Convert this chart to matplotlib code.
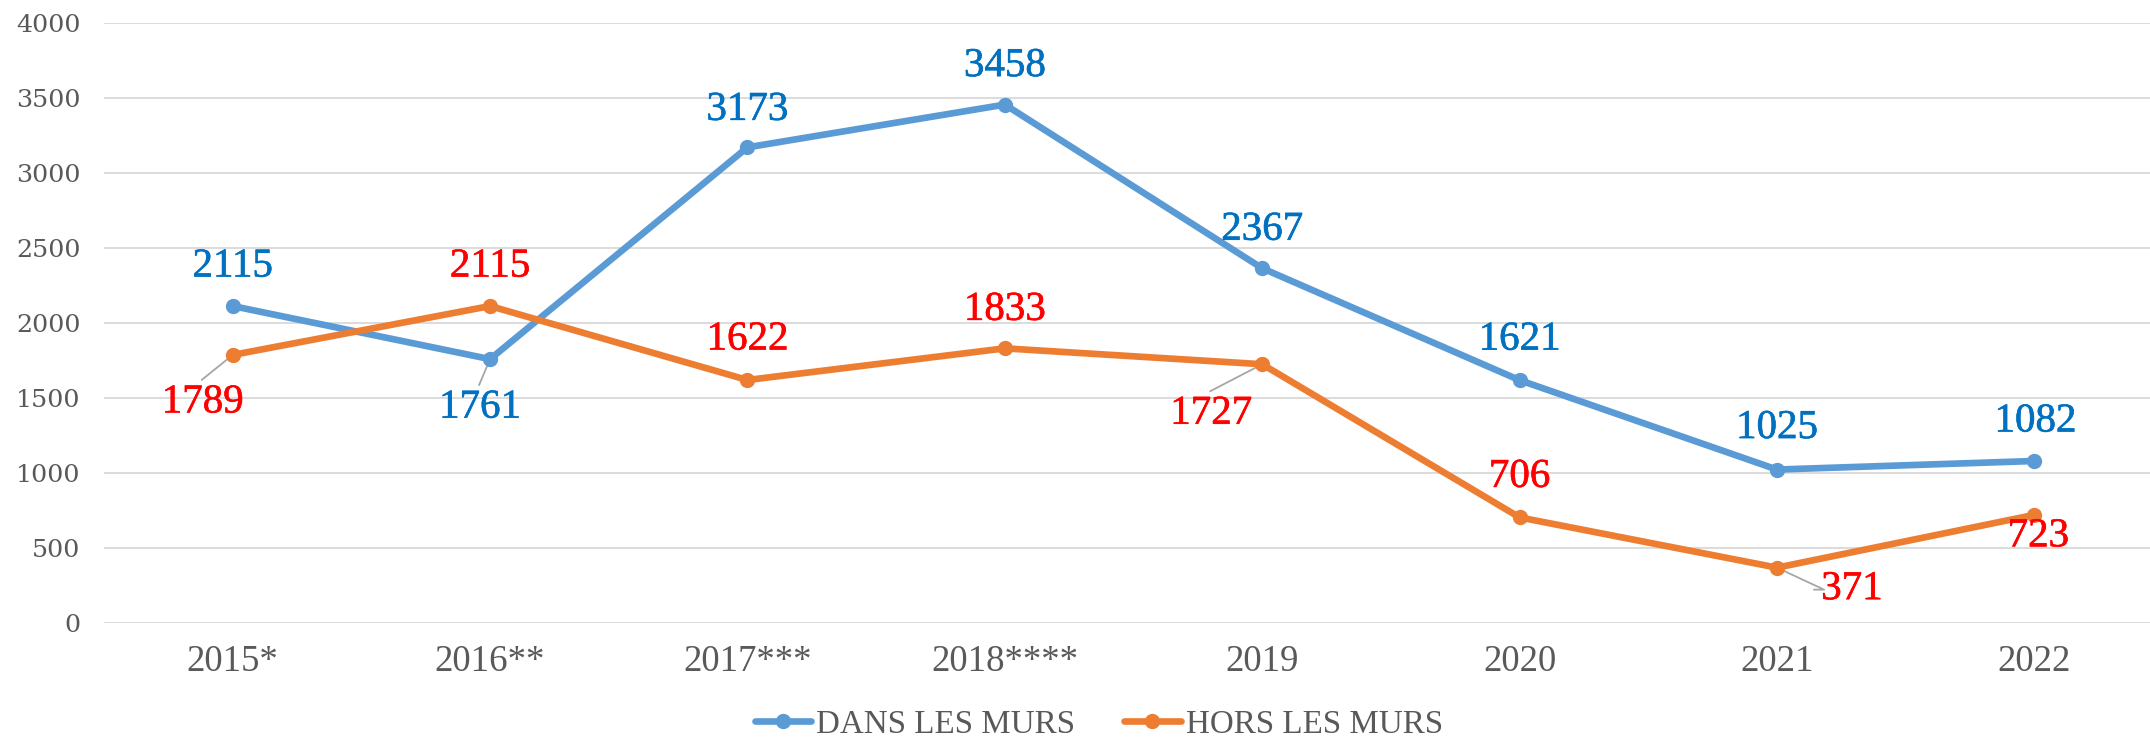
import matplotlib.pyplot as plt
import matplotlib.patheffects as pe

# data
years = ['2015*', '2016**', '2017***', '2018****', '2019', '2020', '2021', '2022']
dans_les_murs = [2115, 1761, 3173, 3458, 2367, 1621, 1025, 1082]
hors_les_murs = [1789, 2115, 1622, 1833, 1727, 706, 371, 723]

# label offsets in pixels (dx right, dy down) from each point
dans_off = [(0, -39), (-10, 49), (0, -37), (0, -38), (0, -38), (0, -40), (0, -41), (1, -39)]
hors_off = [(-30, 48), (0, -39), (0, -40), (0, -38), (-51, 50), (0, -40), (75, 22), (4, 22)]
# leader lines (start offsets in pixels), None = no line
dans_lead = [None, (-11, 26), None, None, None, None, None, None]
hors_lead = [(-31, 25), None, None, None, (-52, 27), None, None, None]

PX = 0.72  # pixels -> points at dpi 100

fig = plt.figure(figsize=(21.5, 7.41), dpi=100)
ax = fig.add_axes([104 / 2150, (741 - 623.3) / 741, 2059 / 2150, 600 / 741])

x = list(range(len(years)))
ax.plot(x, dans_les_murs, color='#5B9BD5', lw=4.8, marker='o', markersize=10,
        label='DANS LES MURS', solid_capstyle='round', zorder=3)
ax.plot(x, hors_les_murs, color='#ED7D31', lw=4.8, marker='o', markersize=10,
        label='HORS LES MURS', solid_capstyle='round', zorder=3)

ax.set_xlim(-0.5, 7.5)
ax.set_ylim(0, 4000)
ax.set_yticks(range(0, 4001, 500))
ax.set_xticks(x)
ax.set_xticklabels(years)
ax.grid(axis='y', color='#D9D9D9', lw=1.3)
ax.set_axisbelow(True)
for s in ax.spines.values():
    s.set_visible(False)
ax.tick_params(length=0)
ax.tick_params(axis='y', pad=17, labelcolor='#595959')
ax.tick_params(axis='x', pad=15, labelcolor='#595959')
for t in ax.get_yticklabels():
    t.set_fontfamily('DejaVu Serif')
    t.set_fontsize(18.3)
for t in ax.get_xticklabels():
    t.set_fontfamily('Liberation Serif')
    t.set_fontsize(26.5)


def add_labels(vals, offs, leads, color):
    for i, v in enumerate(vals):
        if leads[i] is not None:
            lx, ly = leads[i]
            ax.annotate('', xy=(i, v), xytext=(lx * PX, -ly * PX), textcoords='offset points',
                        arrowprops=dict(arrowstyle='-', color='#A6A6A6', lw=1.3,
                                        shrinkA=0, shrinkB=0), zorder=2)
        dx, dy = offs[i]
        t = ax.annotate(str(v), xy=(i, v), xytext=(dx * PX, -dy * PX), textcoords='offset points',
                        ha='center', va='center', color=color, fontsize=29.5,
                        family='Liberation Serif', zorder=4)
        t.set_path_effects([pe.withStroke(linewidth=0.45, foreground=color)])


add_labels(dans_les_murs, dans_off, dans_lead, '#0070C0')
add_labels(hors_les_murs, hors_off, hors_lead, '#FF0000')

# small leader for 371
ax.annotate('', xy=(6, hors_les_murs[6]), xytext=(37 * PX, -22 * PX), textcoords='offset points',
            arrowprops=dict(arrowstyle='-', color='#A6A6A6', lw=1.3, shrinkA=0, shrinkB=0,
                            connectionstyle='angle,angleA=0,angleB=-25,rad=0'), zorder=2)

leg = fig.legend(loc='center', bbox_to_anchor=(0.511, 0.022), ncol=2, frameon=False,
                 prop={'family': 'Liberation Serif', 'size': 23.8}, handlelength=1.7,
                 handletextpad=0.15, columnspacing=1.5, labelcolor='#595959')

fig.savefig('out.png', dpi=100)
